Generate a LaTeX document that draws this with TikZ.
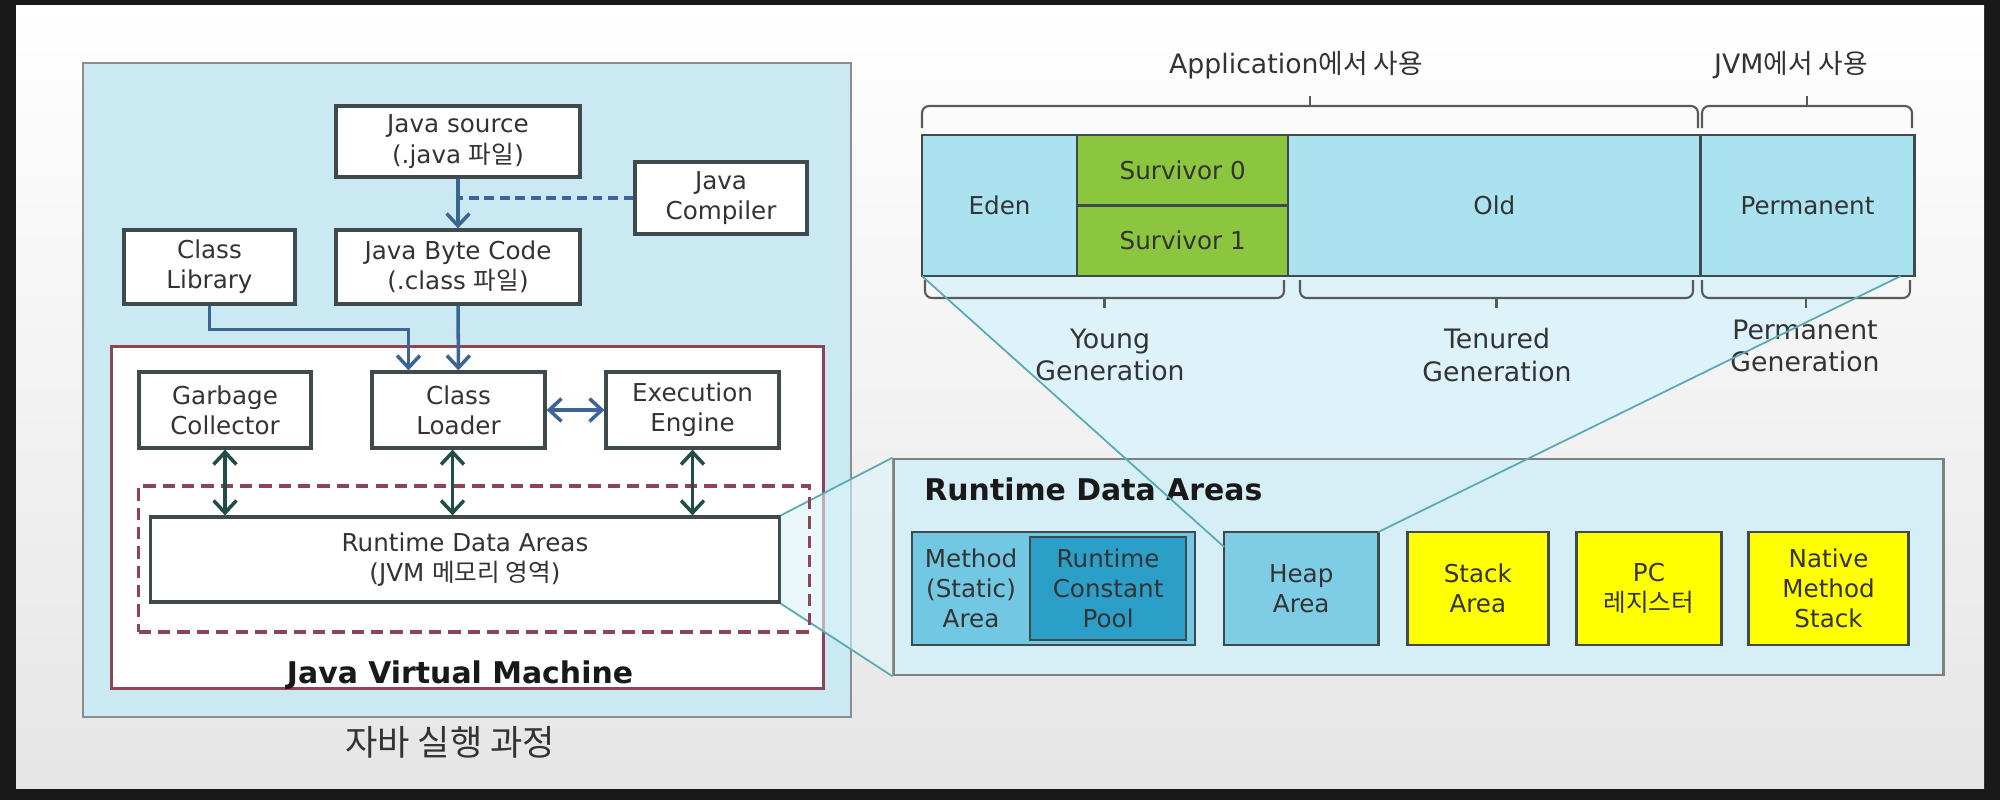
\documentclass[tikz,border=0pt]{standalone}
\usepackage{fontspec}
\setmainfont{DejaVu Sans}
\newfontfamily\kr{Noto Sans CJK KR}
\usetikzlibrary{shapes, calc, arrows.meta, fit, positioning}

\pgfdeclarelayer{back}
\pgfsetlayers{back,main}

\definecolor{boxline}{HTML}{3E4A4C}
\definecolor{panelblue}{HTML}{CBE9F3}
\definecolor{rdblue}{HTML}{D6EEF6}
\definecolor{heapblue}{HTML}{ABE2F0}
\definecolor{survgreen}{HTML}{8CC63F}
\definecolor{methodblue}{HTML}{72C7E2}
\definecolor{poolblue}{HTML}{2C9FC9}
\definecolor{heaparea}{HTML}{7ECDE5}
\definecolor{stackyellow}{HTML}{FFFF00}
\definecolor{flowblue}{HTML}{3B6592}
\definecolor{linkteal}{HTML}{1E4E46}
\definecolor{zoomteal}{HTML}{5AA9B4}
\definecolor{wedgecyan}{HTML}{DDF3F9}
\definecolor{jvmred}{HTML}{8E4452}
\definecolor{txt}{HTML}{333333}

\tikzset{
  box/.style={draw=boxline, line width=0.9pt, fill=white, align=center, inner sep=1pt, text=txt},
  heapcell/.style={box, fill=heapblue, line width=0.7pt, outer sep=0pt},
  rdcell/.style={box, minimum height=1.13cm, line width=0.7pt, outer sep=0pt},
  flow/.style={flowblue, line width=1pt},
  link/.style={linkteal, line width=1pt},
  zoomline/.style={zoomteal, line width=0.5pt},
  bracket/.style={draw=black!65, line width=0.6pt, rounded corners=2pt},
  boldtitle/.style={font=\bfseries\fontsize{8.5}{10}\selectfont, text=black!90},
  genlabel/.style={font=\fontsize{7.6}{9.2}\selectfont, align=center, text=txt},
}

% bracket over/under the heap bar: x from, x to, leg end y, line y, tip y
\newcommand{\genbrace}[5]{%
  \draw[bracket] (#1,#3) |- ({(#1+#2)/2},#4) -| (#2,#3);
  \draw[bracket] ({(#1+#2)/2},#4) -- ({(#1+#2)/2},#5);}

\begin{document}
\begin{tikzpicture}[x=0.01cm, y=-0.01cm, >={Straight Barb[length=3.5pt,width=6.5pt]},
    font=\fontsize{7}{8.6}\selectfont]
  \useasboundingbox (0,0) rectangle (2000,800);
  \begin{pgfonlayer}{back}
    \fill[black!90] (0,0) rectangle (2000,800);
    \shade[top color=white, middle color=white, bottom color=black!10] (16,5) rectangle (1984,788);
  \end{pgfonlayer}

  % Java execution process
  \node[draw=black!45, fill=panelblue, line width=0.6pt, minimum width=7.68cm, minimum height=6.54cm] (exec) at (467,390) {};
  \node[draw=jvmred, fill=white, line width=0.8pt, minimum width=7.11cm, minimum height=3.41cm] (jvm) at (467.5,517.5) {};
  \node[boldtitle, anchor=base] at (460,683) {Java Virtual Machine};
  \node[font=\kr\fontsize{10}{12}\selectfont, text=txt] at (450,742) {자바 실행 과정};

  \node[box, minimum width=2.44cm, minimum height=0.71cm] (src) at (458,141.5) {Java source\\(.java {\kr 파일})};
  \node[box, minimum width=1.72cm, minimum height=0.72cm] (comp) at (721,198) {Java\\Compiler};
  \node[box, minimum width=1.71cm, minimum height=0.74cm] (lib) at (209.5,267) {Class\\Library};
  \node[box, minimum width=2.44cm, minimum height=0.74cm] (bc) at (458,267) {Java Byte Code\\(.class {\kr 파일})};
  \node[box, minimum width=1.72cm, minimum height=0.76cm] (gc) at (225,410) {Garbage\\Collector};
  \node[box, minimum width=1.73cm, minimum height=0.76cm] (loader) at (458.5,410) {Class\\Loader};
  \node[box, minimum width=1.73cm, minimum height=0.76cm] (engine) at (692.5,410) {Execution\\Engine};
  \node[box, minimum width=6.28cm, minimum height=0.85cm] (rda) at (465,559.5) {Runtime Data Areas\\(JVM {\kr 메모리 영역})};

  \draw[flow, ->] (src) -- (bc);
  \draw[flow, dash pattern=on 2.8pt off 1.6pt] (comp.west) -- (comp.west -| src.south);
  \draw[flow, ->] (lib.south) -- ++(0,24) -| ([xshift=-0.5cm]loader.north);
  \draw[flow, ->] (bc) -- (loader);
  \draw[flow, <->] (loader) -- (engine);

  % Runtime Data Areas in detail
  \node[draw=black!50, fill=rdblue, line width=0.7pt, minimum width=10.49cm, minimum height=2.16cm] (rdpanel) at (1418.5,567) {};
  \node[boldtitle, anchor=base west] at (912,500) {Runtime Data Areas};
  \node[rdcell, fill=methodblue, minimum width=2.83cm, anchor=north west] (method) at (912,532) {};
  \node[rdcell, fill=poolblue, minimum width=1.56cm, minimum height=1.03cm, anchor=east] (pool) at ([xshift=-0.09cm]method.east) {Runtime\\Constant\\Pool};
  \node[align=center, text=txt] at ($(method.west)!0.5!(pool.west)$) {Method\\(Static)\\Area};
  \node[rdcell, fill=heaparea, minimum width=1.54cm, right=0.29cm of method] (heap) {Heap\\Area};
  \node[rdcell, fill=stackyellow, minimum width=1.41cm, right=0.29cm of heap] (stack) {Stack\\Area};
  \node[rdcell, fill=stackyellow, minimum width=1.45cm, right=0.28cm of stack] (pc) {PC\\{\kr 레지스터}};
  \node[rdcell, fill=stackyellow, minimum width=1.60cm, right=0.27cm of pc] (native) {Native\\Method\\Stack};

  \fill[wedgecyan, fill opacity=0.6] (rda.north east) -- (rdpanel.north west) -- (rdpanel.south west) -- (rda.south east) -- cycle;
  \draw[zoomline] (rda.north east) -- (rdpanel.north west) (rda.south east) -- (rdpanel.south west);

  \node[draw=jvmred, dash pattern=on 3.5pt off 2pt, line width=0.9pt, minimum width=6.70cm, minimum height=1.46cm] (rdazone) at (474,559) {};
  \draw[link, <->] (gc) -- (gc |- rda.north);
  \draw[link, <->] ([xshift=-0.06cm]loader.south) -- ([xshift=-0.06cm]loader.south |- rda.north);
  \draw[link, <->] (engine) -- (engine |- rda.north);

  % heap layout
  \node[heapcell, minimum width=1.55cm, minimum height=1.41cm, anchor=north west] (eden) at (922,135) {Eden};
  \node[heapcell, fill=survgreen, minimum width=2.11cm, minimum height=0.705cm, anchor=north west] (surv0) at (eden.north east) {Survivor 0};
  \node[heapcell, fill=survgreen, minimum width=2.11cm, minimum height=0.705cm, anchor=north west] (surv1) at (surv0.south west) {Survivor 1};
  \node[heapcell, minimum width=4.12cm, minimum height=1.41cm, anchor=north west] (old) at (surv0.north east) {Old};
  \node[heapcell, minimum width=2.14cm, minimum height=1.41cm, anchor=north west] (perm) at (old.north east) {Permanent};

  \genbrace{922}{1698}{128}{106}{96}
  \genbrace{1702}{1912}{128}{106}{96}
  \genbrace{925}{1284}{280}{298}{308}
  \genbrace{1300}{1693}{280}{298}{308}
  \genbrace{1702}{1910}{280}{298}{308}

  \node[genlabel] at (1296,65) {Application{\kr 에서 사용}};
  \node[genlabel] at (1791,65) {JVM{\kr 에서 사용}};
  \node[genlabel] at (1110,355) {Young\\Generation};
  \node[genlabel] at (1497,355) {Tenured\\Generation};
  \node[genlabel] at (1805,346) {Permanent\\Generation};

  \begin{pgfonlayer}{back}
    \fill[wedgecyan] (eden.south west) -- ([xshift=-0.14cm]perm.south east) -- (heap.north east) -- ([yshift=-0.15cm]heap.north west) -- cycle;
  \end{pgfonlayer}
  \draw[zoomline] (eden.south west) -- ([yshift=-0.15cm]heap.north west);
  \draw[zoomline] ([xshift=-0.14cm]perm.south east) -- (heap.north east);
\end{tikzpicture}
\end{document}
